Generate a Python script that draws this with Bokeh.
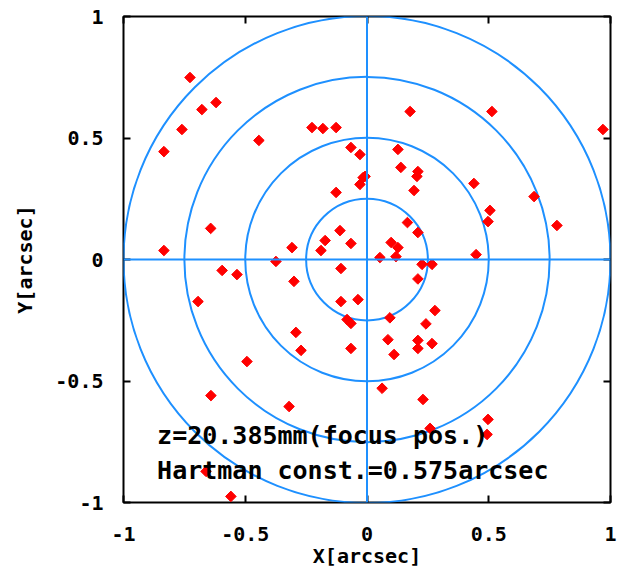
from bokeh.plotting import figure
from bokeh.models import Span, LinearAxis, FixedTicker, Range1d
from bokeh.embed import file_html
from bokeh.resources import INLINE
from bokeh.core.properties import value

# spot positions [arcsec]
x_pts = [-0.727, -0.678, -0.620, -0.760, -0.834, -0.444, -0.226, -0.181, -0.127, -0.066,
         -0.029, -0.016, -0.029, -0.127, -0.111, -0.172, -0.189, -0.066, -0.642, -0.834,
         -0.308, -0.374, 0.177, 0.513, 0.969, 0.127, 0.139, -0.008, 0.209, 0.205,
         0.193, 0.439, 0.686, 0.505, 0.497, 0.780, 0.166, 0.209, 0.099, 0.127,
         0.119, 0.053, 0.448, 0.226, 0.267, 0.209, -0.037, 0.094, 0.279, 0.242,
         0.086, 0.209, 0.209, 0.267, 0.111, 0.062, 0.230, 0.497, 0.493, 0.259,
         -0.595, -0.534, -0.300, -0.107, -0.694, -0.107, -0.082, -0.066, -0.292, -0.271,
         -0.066, -0.493, -0.641, -0.320, -0.661, -0.559]
y_pts = [0.749, 0.617, 0.646, 0.535, 0.444, 0.490, 0.543, 0.539, 0.543, 0.461,
         0.432, 0.337, 0.309, 0.276, 0.119, 0.078, 0.037, 0.066, 0.128, 0.037,
         0.049, -0.008, 0.609, 0.609, 0.535, 0.453, 0.379, 0.342, 0.362, 0.342,
         0.284, 0.313, 0.259, 0.202, 0.156, 0.140, 0.152, 0.111, 0.070, 0.049,
         0.012, 0.008, 0.020, -0.020, -0.020, -0.080, -0.165, -0.240, -0.210, -0.265,
         -0.330, -0.333, -0.366, -0.346, -0.391, -0.530, -0.576, -0.658, -0.720, -0.695,
         -0.045, -0.062, -0.090, -0.037, -0.173, -0.173, -0.247, -0.263, -0.300, -0.374,
         -0.366, -0.420, -0.560, -0.605, -0.872, -0.975]

rings = [0.25, 0.5, 0.75, 1.0]
ticks = [-1, -0.5, 0, 0.5, 1]
tick_labels = {-1: "-1", -0.5: "-0.5", 0: "0", 0.5: "0.5", 1: "1"}
blank_labels = {-1: "", -0.5: "", 0: "", 0.5: "", 1: ""}
notes = ["z=20.385mm(focus pos.)", "Hartman const.=0.575arcsec"]
note_x = [-0.862, -0.862]
note_y = [-0.726, -0.870]

BLUE = "#1e90ff"
FONT = "DejaVu Sans Mono"

p = figure(width=620, height=570, output_backend="svg", toolbar_location=None,
           x_range=Range1d(-1, 1), y_range=Range1d(-1, 1),
           min_border_left=123, min_border_right=10, min_border_top=16, min_border_bottom=68)
p.grid.visible = False
p.background_fill_color = "white"
p.border_fill_color = "white"
p.outline_line_color = "black"
p.outline_line_width = 2

for ax in (p.xaxis[0], p.yaxis[0]):
    ax.ticker = FixedTicker(ticks=ticks)
    ax.major_label_overrides = tick_labels
    ax.major_tick_in = 7
    ax.major_tick_out = 0
    ax.minor_tick_line_color = None
    ax.axis_line_color = None
    ax.major_tick_line_width = 2
    ax.major_label_text_font = FONT
    ax.major_label_text_font_style = "bold"
    ax.major_label_text_font_size = "20px"
    ax.major_label_text_color = "black"
    ax.axis_label_text_font = FONT
    ax.axis_label_text_font_style = "bold"
    ax.axis_label_text_font_size = "20px"
    ax.axis_label_text_color = "black"

p.xaxis[0].axis_label = "X[arcsec]"
p.yaxis[0].axis_label = "Y[arcsec]"
p.xaxis[0].major_label_standoff = 24
p.xaxis[0].axis_label_standoff = 0
p.yaxis[0].major_label_standoff = 20
p.yaxis[0].axis_label_standoff = 15
p.yaxis[0].major_label_orientation = "horizontal"

for loc in ("above", "right"):
    ax = LinearAxis(ticker=FixedTicker(ticks=ticks), major_label_overrides=blank_labels,
                    major_tick_in=7, major_tick_out=0, minor_tick_line_color=None,
                    axis_line_color=None, major_tick_line_width=2, major_label_standoff=0)
    p.add_layout(ax, loc)

p.circle(x=[0] * len(rings), y=[0] * len(rings), radius=rings, fill_color=None,
         line_color=BLUE, line_width=2)
p.add_layout(Span(location=0, dimension="height", line_color=BLUE, line_width=2))
p.add_layout(Span(location=0, dimension="width", line_color=BLUE, line_width=2))

p.scatter(x_pts, y_pts, marker="square", angle=0.785, size=7.5,
          fill_color="red", line_color="red", line_width=1)

p.text(x=note_x, y=note_y, text=notes, text_font=value(FONT), text_font_style="bold",
       text_font_size="25px", text_color="black", text_baseline="middle", text_align="left")

open("out.html", "w").write(file_html(p, INLINE))
